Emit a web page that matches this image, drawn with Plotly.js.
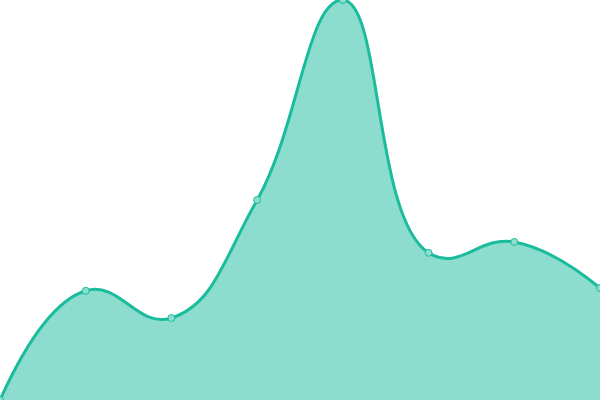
<!DOCTYPE html>
<html>
<head>
<meta charset="utf-8">
<script src="https://cdn.plot.ly/plotly-3.0.1.min.js"></script>
<style>
  html, body { margin: 0; padding: 0; background: #fff; }
  #chart { width: 600px; height: 400px; }
</style>
</head>
<body>
<div id="chart"></div>
<script>
// points along the curve
const steps = [0, 1, 2, 3, 4, 5, 6, 7];
const values = [0, 27.3, 20.5, 50, 100, 36.8, 39.5, 28];

const trace = {
  x: steps,
  y: values,
  type: 'scatter',
  mode: 'lines+markers',
  fill: 'tozeroy',
  fillcolor: 'rgba(26,188,156,0.5)',
  line: { color: '#1abc9c', width: 3, shape: 'spline', smoothing: 1.3 },
  marker: {
    size: 7,
    color: '#8ddece',
    line: { color: '#1abc9c', width: 1 },
  },
  cliponaxis: true,
  hoverinfo: 'none',
};

const layout = {
  width: 600,
  height: 400,
  margin: { l: 0, r: 0, t: 0, b: 0 },
  paper_bgcolor: '#fff',
  plot_bgcolor: '#fff',
  showlegend: false,
  xaxis: { range: [0, 7], visible: false, fixedrange: true },
  yaxis: { range: [0, 100], visible: false, fixedrange: true },
};

Plotly.newPlot('chart', [trace], layout, { staticPlot: true });
</script>
</body>
</html>
